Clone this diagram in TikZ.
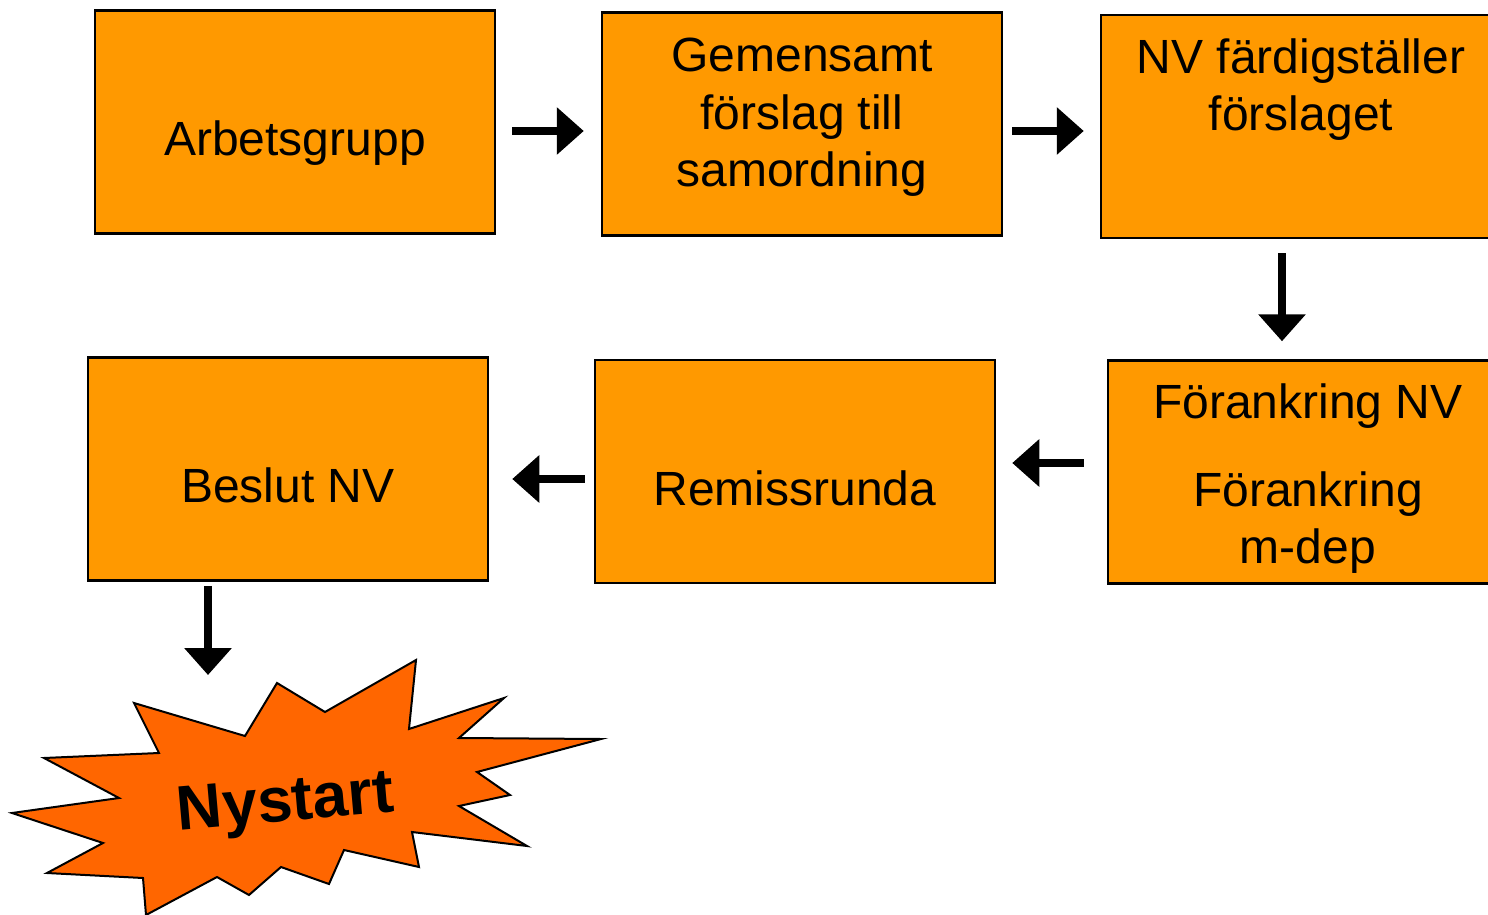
\documentclass[tikz,border=0pt]{standalone}
\usepackage{fontspec}
\setmainfont{Liberation Sans}
\usetikzlibrary{arrows.meta,calc}
\definecolor{boxorange}{HTML}{FF9900}
\definecolor{burstorange}{HTML}{FF6600}
\begin{document}
\begin{tikzpicture}[x=1pt,y=-1pt,
  box/.style={draw=black,line width=2.5pt,fill=boxorange,minimum width=400pt,minimum height=223pt,inner sep=0pt},
  txt/.style={anchor=base,inner sep=0pt,font=\fontsize{48}{57}\selectfont},
  blk/.style={line width=8pt,-{Triangle[length=27pt,width=46pt]}}]
\useasboundingbox (0,0) rectangle (1488,915);
\fill[white] (0,0) rectangle (1488,915);
% boxes
\node[box] (b1) at (295,122) {};
\node[box] (b2) at (802,124) {};
\node[box] (b3) at (1301,126.5) {};
\node[box] (b4) at (1308,472) {};
\node[box] (b5) at (795,471.5) {};
\node[box] (b6) at (288,469) {};
% texts
\node[txt] (t1) at (295,155) {Arbetsgrupp};
\node[txt] (t2a) at (802,72) {Gemensamt};
\node[txt] (t2b) at (802,129) {förslag till};
\node[txt] (t2c) at (802,186) {samordning};
\node[txt] (t3a) at (1301,74) {NV färdigställer};
\node[txt] (t3b) at (1301,131) {förslaget};
\node[txt] (t4a) at (1308,418) {Förankring NV};
\node[txt] (t4b) at (1308,506) {Förankring};
\node[txt] (t4c) at (1308,563) {m-dep};
\node[txt] (t5) at (795,505) {Remissrunda};
\node[txt] (t6) at (288,502) {Beslut NV};
% starburst
\filldraw[fill=burstorange,draw=black,line width=2pt,line join=miter]
 (134,703) -- (245,736) -- (277,683) -- (325,712) -- (416,660) -- (409,729)
 -- (504,698) -- (459,738) -- (601,739) -- (477,772) -- (510,795) -- (459,806)
 -- (527,846) -- (412,832) -- (419,867) -- (344,850) -- (329,884) -- (281,867)
 -- (249,895) -- (217,877) -- (146,915) -- (143,878) -- (47,873) -- (103,843)
 -- (12,813) -- (119,798) -- (44,758) -- (159,753) -- cycle;
\coordinate (burst) at (208,675);
\node[anchor=base,inner sep=0pt,rotate=5,font=\fontsize{63}{70}\selectfont\bfseries] (ny) at (287,821) {Nystart};
% arrows
\draw[blk] ($(b1.east)+(16,9)$) -- ($(b2.west)+(-17,7)$);
\draw[blk] ($(b2.east)+(9,7)$) -- ($(b3.west)+(-16,4.5)$);
\draw[blk] ($(b3.south)+(-19,14)$) -- ($(b4.north)+(-26,-18)$);
\draw[blk] ($(b4.west)+(-23,-9)$) -- ($(b5.east)+(16,-8.5)$);
\draw[blk] ($(b5.west)+(-9,7.5)$) -- ($(b6.east)+(23,10)$);
\draw[blk] ($(b6.south)+(-80,4)$) -- (burst);
\end{tikzpicture}
\end{document}
